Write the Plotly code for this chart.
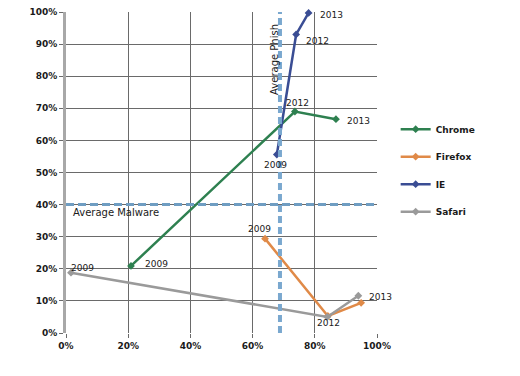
import plotly.graph_objects as go

years = ["2009", "2012", "2013"]

chrome_x = [0.209, 0.736, 0.868]
chrome_y = [0.209, 0.690, 0.666]
firefox_x = [0.640, 0.842, 0.949]
firefox_y = [0.294, 0.053, 0.094]
ie_x = [0.678, 0.740, 0.780]
ie_y = [0.556, 0.930, 0.997]
safari_x = [0.016, 0.840, 0.940]
safari_y = [0.188, 0.050, 0.116]

avg_malware = 0.40
avg_phish = 0.688

x_ticks = [0, 0.2, 0.4, 0.6, 0.8, 1.0]
y_ticks = [0, 0.1, 0.2, 0.3, 0.4, 0.5, 0.6, 0.7, 0.8, 0.9, 1.0]

FONT = "DejaVu Sans"
lbl_font = dict(family=FONT, size=9, color="#1a1a1a")

fig = go.Figure()

def add(name, xs, ys, color, shifts):
    fig.add_trace(go.Scatter(
        x=xs, y=ys, name=name, mode="lines+markers",
        line=dict(color=color, width=2.5),
        marker=dict(symbol="diamond", size=6, color=color),
        legendgroup=name, cliponaxis=False,
    ))
    # year labels (None = no label drawn for that point)
    for xv, yv, yr, sh in zip(xs, ys, years, shifts):
        if sh is None:
            continue
        fig.add_annotation(x=xv, y=yv, xref="x", yref="y", text=yr,
                           showarrow=False, xshift=sh[0], yshift=sh[1],
                           font=lbl_font)

add("Chrome", chrome_x, chrome_y, "#2e8050", [(25, 2), (3, 9), (23, -2)])
add("Firefox", firefox_x, firefox_y, "#e08a48", [(-6, 10), None, None])
add("IE", ie_x, ie_y, "#3a4d94", [(-1, -10), (21, -7), (23, -2)])
add("Safari", safari_x, safari_y, "#9a9a9a", [(12, 5), (1, -6), (22, -1)])

fig.add_shape(type="line", xref="x", yref="y", x0=0, x1=1, y0=avg_malware, y1=avg_malware,
              line=dict(color="#6f9dc2", width=3, dash="8px,4px"), layer="above")
fig.add_shape(type="line", xref="x", yref="y", x0=avg_phish, x1=avg_phish, y0=0, y1=1,
              line=dict(color="#7aa8cf", width=4, dash="7px,4px"), layer="above")

fig.add_annotation(x=0.015, y=avg_malware, xref="x", yref="y", text="Average Malware",
                   showarrow=False, xanchor="left", yanchor="top", yshift=0,
                   font=dict(family=FONT, size=10, color="#1a1a1a"))
fig.add_annotation(x=avg_phish, y=0.86, xref="x", yref="y", text="Average Phish",
                   showarrow=False, textangle=-90, xshift=-5, yshift=-2,
                   font=dict(family=FONT, size=10, color="#1a1a1a"))

tickfont = dict(family=FONT, size=9, color="#1a1a1a", weight="bold")

fig.update_xaxes(range=[0, 1], tickvals=x_ticks, tickformat=".0%",
                 showgrid=True, gridcolor="#6a6a6a", gridwidth=1,
                 zeroline=False, showline=False, mirror=False,
                 ticks="outside", ticklen=4, tickcolor="#6a6a6a",
                 tickfont=tickfont, automargin=False)
fig.update_yaxes(range=[0, 1], tickvals=y_ticks, tickformat=".0%",
                 showgrid=True, gridcolor="#6a6a6a", gridwidth=1,
                 zeroline=False, showline=True, linecolor="#a8a8a8", linewidth=3,
                 ticks="outside", ticklen=4, tickcolor="#6a6a6a",
                 tickfont=tickfont, automargin=False)

fig.update_layout(
    width=520, height=376,
    margin=dict(l=66, r=143, t=12, b=43, autoexpand=False),
    paper_bgcolor="white", plot_bgcolor="white",
    legend=dict(x=1.06, y=0.68, xanchor="left", yanchor="top",
                font=dict(family=FONT, size=9, color="#1a1a1a", weight="bold"),
                tracegroupgap=8.5, bgcolor="rgba(0,0,0,0)"),
    showlegend=True,
)

fig.write_html("out.html", config={"displayModeBar": False},
               post_script="document.body.style.margin='0';")
